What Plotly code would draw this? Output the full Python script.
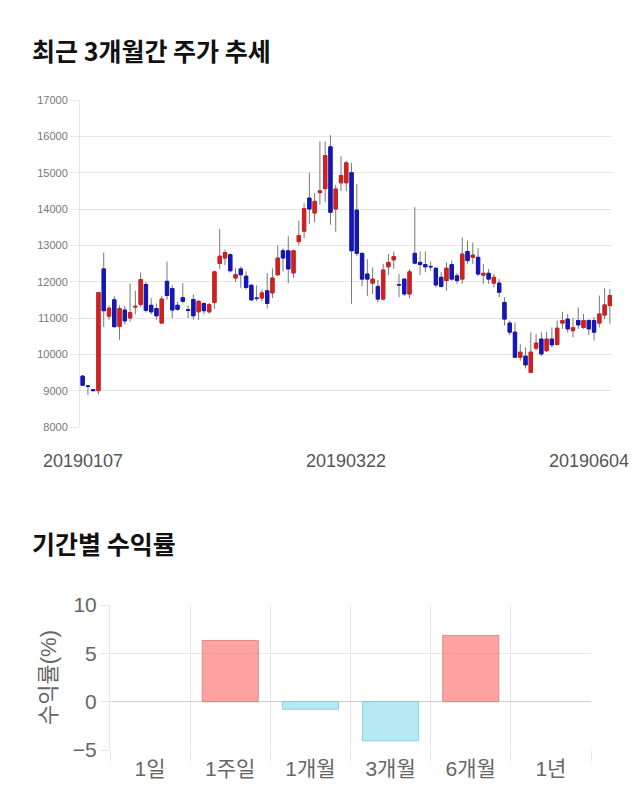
import pandas as pd
import plotly.graph_objects as go

# ---------------- data ----------------
holidays = ["2019-02-04", "2019-02-05", "2019-02-06", "2019-03-01", "2019-05-01", "2019-05-06"]
dates = [d.strftime("%Y%m%d") for d in pd.bdate_range("2019-01-07", "2019-06-04") if d.strftime("%Y-%m-%d") not in holidays]

opens = [9400, 9130, 9030, 9000, 12350, 11050, 11500, 10770, 11220, 11000,
         11300, 11370, 11920, 11350, 11260, 10860, 12010, 11810, 11350, 11560,
         11230, 11510, 11170, 11400, 11170, 11430, 12500, 12650, 12740, 12100,
         12350, 12150, 11900, 11550, 11550, 11750, 11690, 12190, 12850, 12850,
         12240, 13100, 13390, 14300, 13890, 14450, 14560, 15710, 14000, 14720,
         14720, 15000, 13970, 12780, 12210, 11960, 11870, 11520, 12410, 12600,
         11920, 12070, 11660, 12780, 12530, 12470, 12420, 12370, 12120, 12030,
         12470, 12160, 12070, 12830, 12670, 12670, 12180, 12230, 11960, 11960,
         11430, 10860, 10610, 9920, 9950, 9500, 10170, 10420, 10100, 10420,
         10270, 10860, 10970, 10650, 10930, 10740, 10930, 10930, 10860, 11080, 11340]
highs = [9420, 9150, 9040, 11720, 12800, 11350, 11600, 11350, 11330, 11950,
         11750, 12250, 12000, 11550, 11400, 11600, 12550, 11900, 11450, 11960,
         11350, 11650, 11500, 11430, 11420, 12300, 13450, 12880, 12780, 12370,
         12420, 12280, 11940, 11900, 11780, 12240, 12360, 13000, 12920, 13250,
         12880, 13680, 14160, 14990, 14440, 15860, 15860, 16030, 14670, 15450,
         15330, 15270, 14690, 12800, 12620, 12390, 12050, 12490, 12760, 12830,
         12210, 12090, 12350, 14050, 12830, 12830, 12550, 12390, 12260, 12530,
         12580, 12240, 13220, 13130, 13080, 12920, 12490, 12350, 12210, 12070,
         11570, 10930, 10880, 10280, 10190, 10610, 10560, 10610, 10620, 10740,
         10930, 11170, 11110, 11000, 11290, 11110, 10970, 11020, 11620, 11820, 11800]
lows = [9130, 8880, 8990, 8900, 10750, 10950, 10750, 10400, 10820, 10900,
        11100, 11300, 11150, 11100, 10950, 10850, 11500, 11000, 11200, 11400,
        11000, 10950, 10950, 11100, 11120, 11250, 12350, 12450, 12250, 11990,
        11830, 11780, 11460, 11460, 11460, 11260, 11550, 12150, 12280, 11960,
        12100, 13000, 13200, 13590, 13640, 14120, 14190, 13570, 13370, 14490,
        14490, 11390, 12700, 11870, 11610, 11660, 11430, 11480, 12180, 12350,
        11570, 11610, 11540, 12480, 12180, 12260, 12300, 11840, 11840, 11750,
        12030, 11940, 11940, 12490, 12490, 12150, 11940, 11940, 11840, 11570,
        10790, 10530, 9900, 9830, 9610, 9480, 10100, 9960, 10060, 10190,
        10240, 10700, 10600, 10470, 10700, 10700, 10530, 10380, 10740, 10970, 10840]
closes = [9150, 9120, 9000, 11700, 11200, 11270, 10760, 11260, 10920, 11150,
          11320, 12060, 11210, 11170, 11060, 11520, 11620, 11220, 11240, 11460,
          11210, 11060, 11460, 11200, 11370, 12270, 12700, 12800, 12300, 12190,
          12190, 11840, 11500, 11540, 11690, 11400, 12100, 12650, 12650, 12350,
          12850, 13270, 14010, 14000, 14210, 14500, 15470, 13910, 14550, 14920,
          15270, 12850, 12780, 12070, 12070, 12070, 11520, 12320, 12530, 12690,
          11910, 11660, 12270, 12510, 12470, 12410, 12410, 11910, 11870, 12370,
          12070, 12030, 12760, 12580, 12730, 12210, 12230, 12070, 12120, 11710,
          10970, 10610, 9920, 10060, 9710, 10060, 10310, 10010, 10420, 10260,
          10720, 10930, 10700, 10730, 10810, 10930, 10700, 10610, 11110, 11360, 11620]

date_labels = ["20190107", "20190322", "20190604"]
date_label_idx = [0, 50, 100]

periods = ["1일", "1주일", "1개월", "3개월", "6개월", "1년"]
returns = [0, 6.33, -0.79, -4.05, 6.85, 0]

# ---------------- styling ----------------
W, H = 640, 810
RED, BLUE, WICK = "#D21F1F", "#1515B8", "#777777"
GRID = "#e6e6e6"
FONT = "Liberation Sans, Noto Sans CJK KR, sans-serif"
KFONT = "Noto Sans CJK KR, sans-serif"


def px_x(p):
    return p / W


def px_y(p):
    return 1 - p / H


fig = go.Figure()

# wicks (full high-low range, grey)
fig.add_trace(go.Candlestick(
    x=dates, open=opens, high=highs, low=lows, close=closes,
    increasing=dict(line=dict(color=WICK, width=1), fillcolor=WICK),
    decreasing=dict(line=dict(color=WICK, width=1), fillcolor=WICK),
    whiskerwidth=0, showlegend=False, hoverinfo="skip", xaxis="x", yaxis="y"))
# bodies (open-close range, coloured)
fig.add_trace(go.Candlestick(
    x=dates, open=opens, close=closes,
    high=[max(o, c) for o, c in zip(opens, closes)],
    low=[min(o, c) for o, c in zip(opens, closes)],
    increasing=dict(line=dict(color=RED, width=1), fillcolor=RED),
    decreasing=dict(line=dict(color=BLUE, width=1), fillcolor=BLUE),
    whiskerwidth=0, showlegend=False, hoverinfo="skip", xaxis="x", yaxis="y"))

bar_fill = ["rgba(255,100,100,0.6)" if v > 0 else "rgba(120,215,235,0.55)" for v in returns]
bar_line = ["rgba(220,120,120,0.8)" if v > 0 else "rgba(120,200,220,0.8)" for v in returns]
bar_lw = [1 if v != 0 else 0 for v in returns]
fig.add_trace(go.Bar(
    x=periods, y=returns, width=0.7,
    marker=dict(color=bar_fill, line=dict(color=bar_line, width=bar_lw)),
    showlegend=False, hoverinfo="skip", xaxis="x2", yaxis="y2"))

fig.update_layout(
    width=W, height=H, margin=dict(l=0, r=0, t=0, b=0, pad=0, autoexpand=False),
    paper_bgcolor="white", plot_bgcolor="white",
    boxgap=0.1,
    font=dict(family=FONT, color="#666"),
    xaxis=dict(domain=[px_x(80), px_x(612)], anchor="y", type="category",
               range=[-0.5, 100.4], showticklabels=False, showgrid=False,
               zeroline=False, rangeslider=dict(visible=False), automargin=False),
    yaxis=dict(domain=[px_y(427), px_y(100)], anchor="x", range=[8000, 17000],
               dtick=1000, tickformat="d", showgrid=True, gridcolor=GRID, zeroline=False,
               showline=True, linecolor=GRID, ticks="outside", ticklen=9,
               tickcolor=GRID, tickfont=dict(size=11, color="#777"), automargin=False),
    xaxis2=dict(domain=[px_x(110), px_x(591)], anchor="y2", type="category",
                range=[-0.5, 5.5], tickson="boundaries", showgrid=True,
                gridcolor=GRID, ticks="outside", ticklen=10, tickcolor=GRID,
                ticklabelstandoff=4,
                tickfont=dict(size=21, color="#666", family=FONT), automargin=False),
    yaxis2=dict(domain=[px_y(750), px_y(605)], anchor="x2", range=[-5, 10],
                dtick=5, showgrid=True, gridcolor=GRID, zeroline=True,
                zerolinecolor="#cfcfcf", zerolinewidth=1, ticks="outside",
                showline=True, linecolor=GRID,
                ticklen=8, tickcolor=GRID, tickfont=dict(size=21, color="#666"),
                title=dict(text="수익률(%)", font=dict(size=22, color="#666", family=FONT),
                           standoff=10), automargin=False),
)

annotations = [
    dict(text="<b>최근 3개월간 주가 추세</b>", x=px_x(30), y=px_y(50), xref="paper", yref="paper",
         xanchor="left", yanchor="middle", showarrow=False,
         font=dict(size=25, color="#111", family=KFONT)),
    dict(text="<b>기간별 수익률</b>", x=px_x(30), y=px_y(543), xref="paper", yref="paper",
         xanchor="left", yanchor="middle", showarrow=False,
         font=dict(size=25, color="#111", family=KFONT)),
]
for lab, idx in zip(date_labels, date_label_idx):
    if idx == date_label_idx[-1]:
        annotations.append(dict(text=lab, x=px_x(631), y=px_y(461), xref="paper", yref="paper",
                                xanchor="right", yanchor="middle", showarrow=False,
                                font=dict(size=18, color="#555")))
    else:
        annotations.append(dict(text=lab, x=idx, y=px_y(461), xref="x", yref="paper",
                                xanchor="center", yanchor="middle", showarrow=False,
                                font=dict(size=18, color="#555")))
fig.update_layout(annotations=annotations)

fig.write_html("out.html")
